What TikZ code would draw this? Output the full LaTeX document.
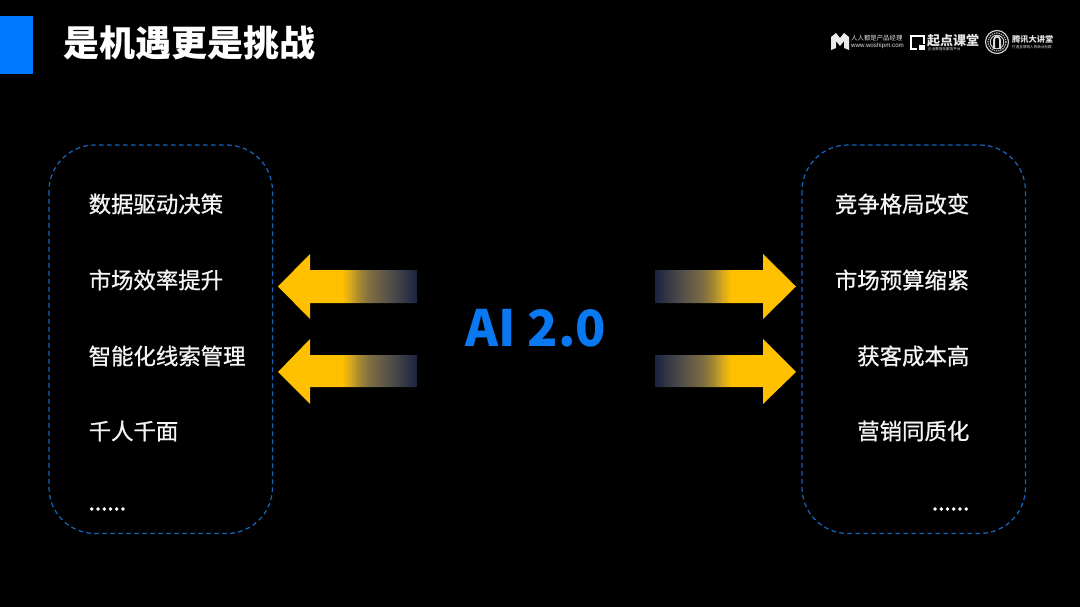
\documentclass[tikz,border=0pt]{standalone}
\usepackage{fontspec}
\setmainfont{Noto Sans CJK SC}
\newfontfamily\cjk{Noto Sans CJK SC}
\newfontfamily\cjkm[FakeBold=0.8]{Noto Sans CJK SC}
\newfontfamily\cjkdots[FakeBold=2.2]{Noto Sans CJK SC}
\newfontfamily\latinlogo{Liberation Sans}
\definecolor{bg}{HTML}{000000}
\definecolor{titleblue}{HTML}{0078FF}
\definecolor{dashblue}{HTML}{1766BE}
\definecolor{ablue}{HTML}{0A78F0}
\definecolor{amber}{HTML}{FFC000}
\definecolor{navy}{HTML}{1A2340}
\definecolor{fadeA}{HTML}{D8A820}
\definecolor{fadeB}{HTML}{A88A30}
\definecolor{fadeC}{HTML}{7E6C42}
\definecolor{fadeD}{HTML}{54504A}
\pgfdeclarehorizontalshading{fadeleft}{100bp}{color(0bp)=(amber); color(48bp)=(amber); color(51bp)=(fadeA); color(54bp)=(fadeB); color(58bp)=(fadeC); color(65bp)=(fadeD); color(75bp)=(navy); color(100bp)=(navy)}
\pgfdeclarehorizontalshading{faderight}{100bp}{color(0bp)=(navy); color(25bp)=(navy); color(35bp)=(fadeD); color(42bp)=(fadeC); color(46bp)=(fadeB); color(49bp)=(fadeA); color(52bp)=(amber); color(100bp)=(amber)}
\tikzset{
  x=1pt,y=-1pt,
  listbox/.style={draw=dashblue,dash pattern=on 4.6pt off 3.4pt,line width=1.2pt,rounded corners=46pt},
  leftitem/.style={anchor=west,inner sep=0pt,text=white!96!black,font=\cjkm\fontsize{22.4pt}{24pt}\selectfont},
  rightitem/.style={anchor=east,inner sep=0pt,text=white!96!black,font=\cjkm\fontsize{22.4pt}{24pt}\selectfont},
  dotitem/.style={inner sep=0pt,text=white,font=\cjkdots\fontsize{22.4pt}{24pt}\selectfont},
  logotext/.style={inner sep=0pt,text=white!90!black,anchor=west},
}
\begin{document}
\begin{tikzpicture}
\useasboundingbox (0,0) rectangle (1080,607);
\fill[bg] (0,0) rectangle (1080,607);
\fill[titleblue] (0,16) rectangle (33,74);
\node[inner sep=0pt,anchor=west,text=white,font=\cjk\bfseries\fontsize{36pt}{38pt}\selectfont] (title) at (63.5,43) {是机遇更是挑战};

% logos
\fill[white!92!black] (831,37) -- (836,33) -- (840,38) -- (844,33) -- (849,37) -- (849,50) -- (844,48) -- (844,41) -- (840,46) -- (836,41) -- (836,48) -- (831,50) -- cycle;
\node[logotext,font=\cjk\fontsize{6.4pt}{7pt}\selectfont] (logoa) at (851,38.5) {人人都是产品经理};
\node[logotext,font=\latinlogo\fontsize{6.2pt}{7pt}\selectfont] (logob) at (851,45.5) {www.woshipm.com};
\draw[white,line width=1.8pt] (917,49) -- (911,49) -- (911,36) -- (924,36) -- (924,44);
\fill[white] (919,45) rectangle (925,50);
\node[logotext,font=\cjk\bfseries\fontsize{13pt}{14pt}\selectfont] (logoc) at (927,41) {起点课堂};
\node[logotext,font=\cjk\fontsize{3.6pt}{4pt}\selectfont] (logod) at (928,49.5) {企业数智化服务平台};
\draw[white!85!black,line width=1.1pt] (997,42) circle (11.5);
\draw[white!70!black,line width=1.3pt,densely dotted] (997,42) circle (9);
\draw[white!85!black,line width=0.9pt] (997,42) circle (6.8);
\fill[white!85!black] (993,49) -- (993,40) arc[start angle=180,end angle=0,x radius=4,y radius=-4.5] -- (1001,49) -- (999,49) -- (999,40) arc[start angle=0,end angle=180,x radius=2,y radius=-2.5] -- (995,49) -- cycle;
\node[logotext,font=\cjk\bfseries\fontsize{8.2pt}{9pt}\selectfont] (logoe) at (1012,39.5) {腾讯大讲堂};
\node[logotext,font=\cjk\fontsize{3.6pt}{5pt}\selectfont] (logof) at (1012,47.5) {打造互联网人的商业社群};

% dashed boxes
\draw[listbox] (49,145) rectangle (272.5,533.5);
\draw[listbox] (802,145) rectangle (1025.5,533.5);

% left list
\node[leftitem] (l1) at (88.5,204) {数据驱动决策};
\node[leftitem] (l2) at (88.5,280) {市场效率提升};
\node[leftitem] (l3) at (88.5,356) {智能化线索管理};
\node[leftitem] (l4) at (88.5,431) {千人千面};
\node[dotitem,anchor=west] (l5) at (88.5,509) {......};
% right list
\node[rightitem] (r1) at (969.5,204) {竞争格局改变};
\node[rightitem] (r2) at (969.5,280) {市场预算缩紧};
\node[rightitem] (r3) at (969.5,356) {获客成本高};
\node[rightitem] (r4) at (969.5,431) {营销同质化};
\node[dotitem,anchor=east] (r5) at (969.5,509) {......};

% arrows
\shade[shading=fadeleft] (278,286.5) -- (310,254) -- (310,270) -- (417,270) -- (417,303) -- (310,303) -- (310,319) -- cycle;
\shade[shading=fadeleft] (278,372) -- (310,339) -- (310,355) -- (417,355) -- (417,387) -- (310,387) -- (310,404) -- cycle;
\shade[shading=faderight] (796,286.5) -- (763,254) -- (763,270) -- (655,270) -- (655,303) -- (763,303) -- (763,319) -- cycle;
\shade[shading=faderight] (796,372) -- (763,339) -- (763,355) -- (655,355) -- (655,387) -- (763,387) -- (763,404) -- cycle;

\node[inner sep=0pt,text=ablue,font=\cjk\bfseries\fontsize{50pt}{54pt}\selectfont] (ai) at (536,328) {AI 2.0};
\end{tikzpicture}
\end{document}
